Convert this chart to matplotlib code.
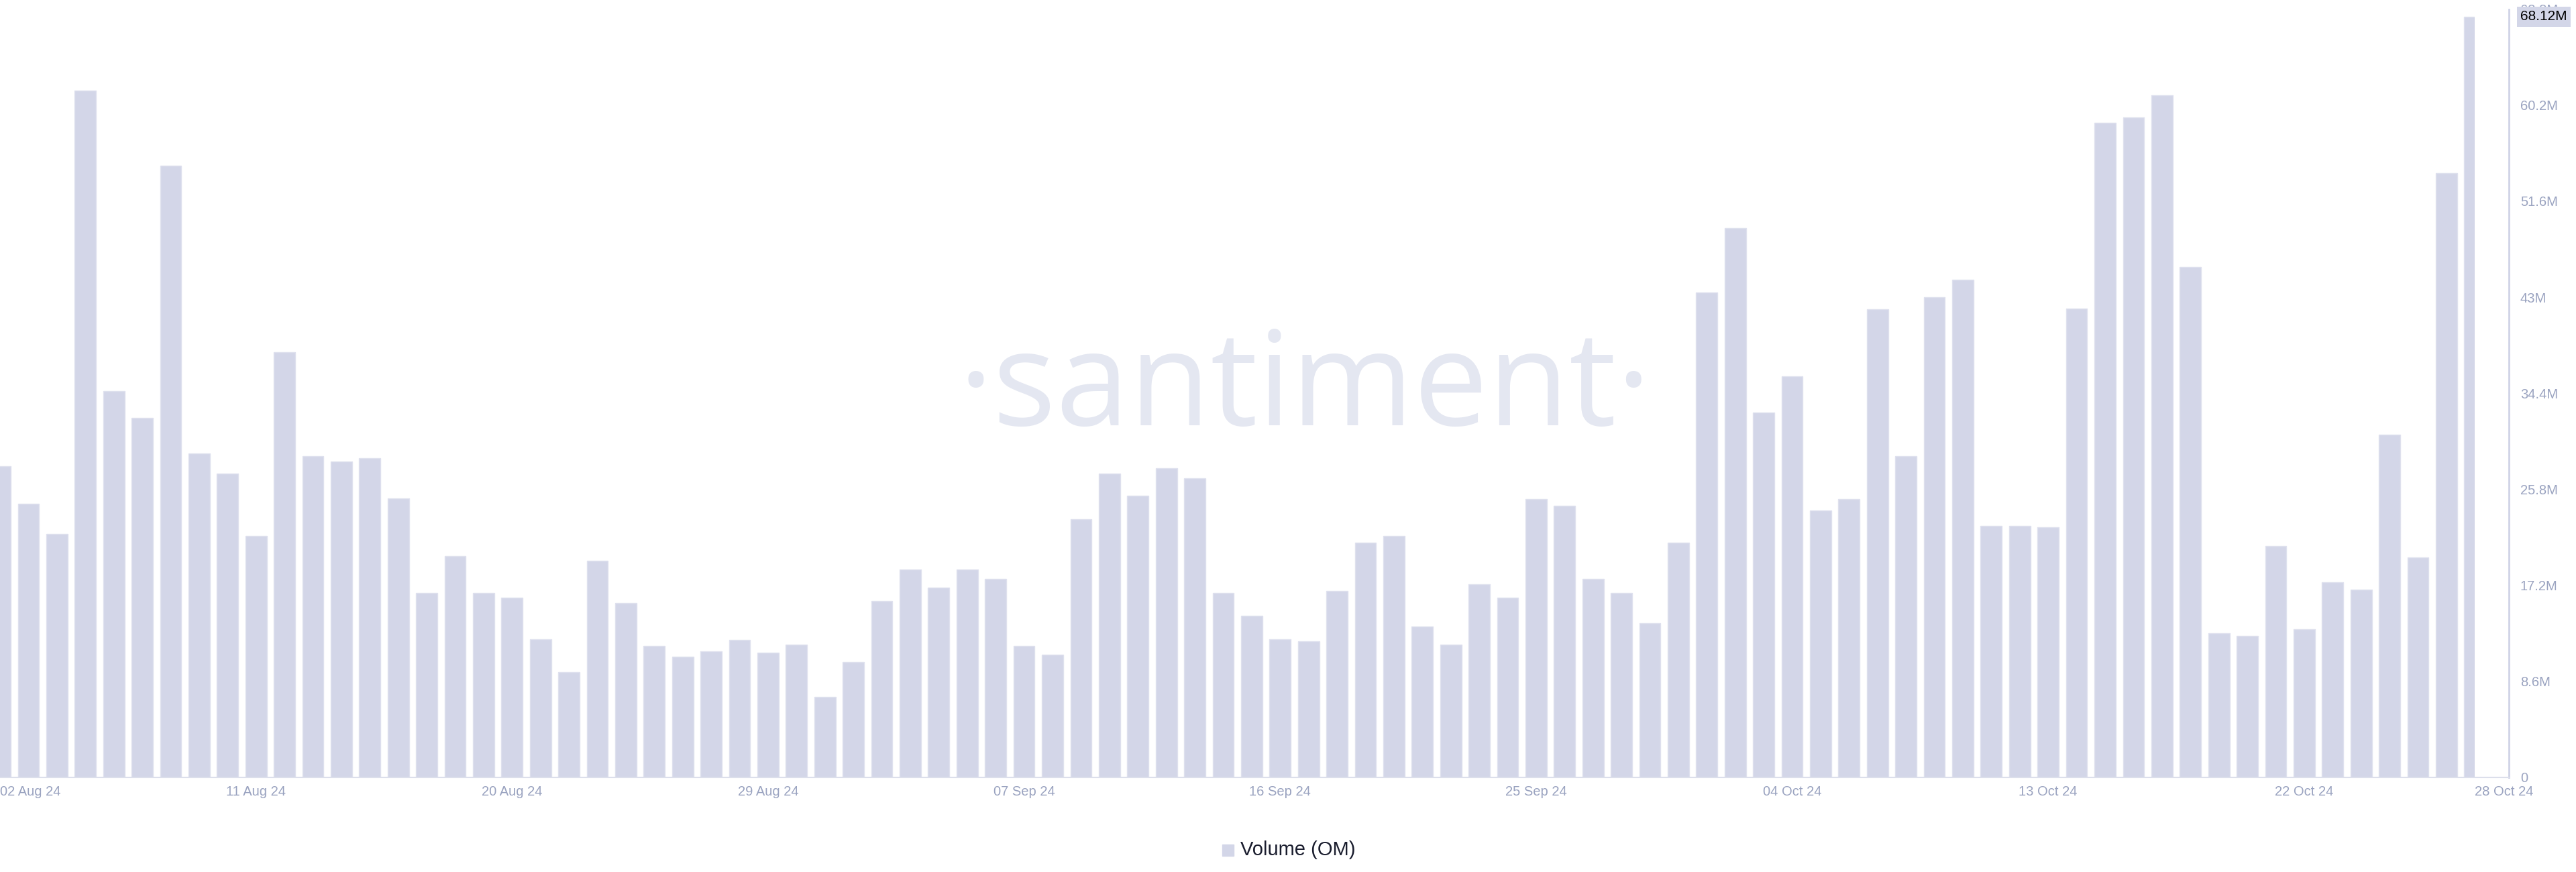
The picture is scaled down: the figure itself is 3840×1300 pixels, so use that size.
import matplotlib
matplotlib.use("Agg")
import matplotlib.pyplot as plt
import matplotlib.dates as mdates
from matplotlib.patches import Rectangle
import pandas as pd

# daily OM volume in millions, 02 Aug 24 .. 28 Oct 24
volume = [
    27.9, 24.5, 21.8, 61.5, 34.6, 32.2, 54.8, 29.0, 27.2, 21.6,
    38.1, 28.8, 28.3, 28.6, 25.0, 16.5, 19.8, 16.5, 16.1, 12.4,
    9.4, 19.4, 15.6, 11.8, 10.8, 11.3, 12.3, 11.2, 11.9, 7.2,
    10.3, 15.8, 18.6, 17.0, 18.6, 17.8, 11.8, 11.0, 23.1, 27.2,
    25.2, 27.7, 26.8, 16.5, 14.5, 12.4, 12.2, 16.7, 21.0, 21.6,
    13.5, 11.9, 17.3, 16.1, 24.9, 24.3, 17.8, 16.5, 13.8, 21.0,
    43.4, 49.2, 32.7, 35.9, 23.9, 24.9, 41.9, 28.8, 43.0, 44.6,
    22.5, 22.5, 22.4, 42.0, 58.6, 59.1, 61.1, 45.7, 12.9, 12.7,
    20.7, 13.3, 17.5, 16.8, 30.7, 19.7, 54.1, 68.12,
]
start_date = "2024-08-02"
dates = pd.date_range(start_date, periods=len(volume), freq="D")

tick_dates = ["2024-08-02", "2024-08-11", "2024-08-20", "2024-08-29", "2024-09-07",
              "2024-09-16", "2024-09-25", "2024-10-04", "2024-10-13", "2024-10-22",
              "2024-10-28"]
tick_labels = ["02 Aug 24", "11 Aug 24", "20 Aug 24", "29 Aug 24", "07 Sep 24",
               "16 Sep 24", "25 Sep 24", "04 Oct 24", "13 Oct 24", "22 Oct 24",
               "28 Oct 24"]
y_ticks = [0, 8.6, 17.2, 25.8, 34.4, 43.0, 51.6, 60.2, 68.8]
y_labels = ["0", "8.6M", "17.2M", "25.8M", "34.4M", "43M", "51.6M", "60.2M", "68.8M"]

bar_color = "#d3d6e8"
label_color = "#9aa3c0"

plt.rcParams["font.family"] = ["Liberation Sans", "DejaVu Sans"]

fig = plt.figure(figsize=(38.4, 13), dpi=100)
ax = fig.add_axes([0.0, 0.1085, 0.974, 0.881])

# watermark
fig.text(0.5065, 0.512, "\u00b7santiment\u00b7", fontsize=142, color="#e4e7f1",
         family="Open Sans", ha="center", va="baseline", zorder=0)
ax.set_facecolor("none")

bars = ax.bar(dates, volume, width=0.75, color=bar_color, edgecolor="#dfe1ee",
              linewidth=1.0, zorder=2)

# bars at both ends are cut at the first / last day
x0 = mdates.date2num(dates[0])
x1 = mdates.date2num(dates[-1])
clip = Rectangle((x0, 0), x1 - x0, 100, transform=ax.transData)
for b in bars:
    b.set_clip_path(clip)

ax.set_xlim(x0, x0 + 88.2)
ax.set_ylim(0, 68.8)

for s in ["top", "left"]:
    ax.spines[s].set_visible(False)
ax.spines["bottom"].set_color("#dcdfeb")
ax.spines["bottom"].set_linewidth(1.5)
ax.spines["right"].set_color("#cfd3e6")
ax.spines["right"].set_linewidth(2)

ax.set_xticks(pd.to_datetime(tick_dates), tick_labels)
ax.tick_params(axis="x", length=0, pad=9, labelsize=14.5, labelcolor=label_color)
xl = ax.get_xticklabels()
xl[0].set_ha("left")
xl[-1].set_ha("left")

ax.yaxis.tick_right()
ax.set_yticks(y_ticks, y_labels)
ax.tick_params(axis="y", length=0, pad=12, labelsize=14.5, labelcolor=label_color)

# last value marker on the axis
ax.annotate("68.12M", xy=(1.0, volume[-1]), xycoords=("axes fraction", "data"),
            xytext=(12, 0), textcoords="offset points", fontsize=15, color="#000000",
            va="center", ha="left",
            bbox=dict(boxstyle="square,pad=0.25", fc=bar_color, ec="none"))

# legend
fig.patches.append(Rectangle((1822 / 3840, 1 - 1276 / 1300), 17 / 3840, 17 / 1300,
                             transform=fig.transFigure, color=bar_color))
fig.text(1849 / 3840, 1 - 1267 / 1300, "Volume (OM)", fontsize=21, color="#1a1d2e",
         ha="left", va="center")

fig.savefig("out.png", dpi=100)
